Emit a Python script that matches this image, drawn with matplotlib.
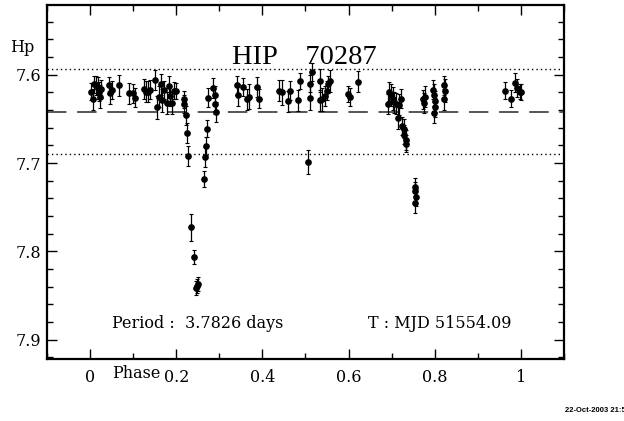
import matplotlib
matplotlib.use("Agg")
import matplotlib.pyplot as plt
from matplotlib.ticker import MultipleLocator

# Hipparcos epoch photometry of HIP 70287, folded on the period
phase = [0.0023, 0.0060, 0.0100, 0.0139, 0.0176, 0.0215, 0.0231, 0.0262, 0.0431, 0.0470,
         0.0516, 0.0662, 0.0894, 0.0986, 0.1042, 0.1241, 0.1292, 0.1343, 0.1396, 0.1512,
         0.1551, 0.1597, 0.1650, 0.1667, 0.1720, 0.1778, 0.1836, 0.1866, 0.1894, 0.1951,
         0.1991, 0.2176, 0.2190, 0.2222, 0.2245, 0.2275, 0.2352, 0.2414, 0.2454, 0.2477,
         0.2495, 0.2646, 0.2669, 0.2685, 0.2708, 0.2745, 0.2854, 0.2894, 0.2894, 0.2919,
         0.3410, 0.3444, 0.3556, 0.3653, 0.3699, 0.3880, 0.3919, 0.4382, 0.4458, 0.4586,
         0.4632, 0.4826, 0.4863, 0.5053, 0.5100, 0.5100, 0.5153, 0.5331, 0.5331, 0.5384,
         0.5463, 0.5505, 0.5523, 0.5579, 0.5986, 0.6025, 0.6218, 0.6905, 0.6944, 0.6981,
         0.7021, 0.7060, 0.7097, 0.7137, 0.7176, 0.7213, 0.7252, 0.7287, 0.7292, 0.7322,
         0.7329, 0.7542, 0.7553, 0.7560, 0.7537, 0.7738, 0.7762, 0.7778, 0.7970, 0.7993,
         0.8005, 0.8005, 0.7986, 0.8218, 0.8241, 0.8225, 0.9630, 0.9769, 0.9861, 0.9914,
         0.9977, 1.0007]
hp_mag = [7.619, 7.628, 7.611, 7.612, 7.615, 7.619, 7.625, 7.616, 7.612, 7.621,
          7.617, 7.612, 7.621, 7.621, 7.626, 7.616, 7.619, 7.619, 7.617, 7.606,
          7.637, 7.625, 7.611, 7.629, 7.617, 7.632, 7.613, 7.624, 7.632, 7.618,
          7.618, 7.628, 7.633, 7.646, 7.666, 7.692, 7.773, 7.806, 7.842, 7.839,
          7.837, 7.718, 7.693, 7.681, 7.661, 7.626, 7.615, 7.623, 7.633, 7.642,
          7.612, 7.623, 7.614, 7.628, 7.625, 7.614, 7.627, 7.618, 7.620, 7.630,
          7.618, 7.629, 7.607, 7.699, 7.610, 7.626, 7.597, 7.607, 7.629, 7.628,
          7.624, 7.618, 7.611, 7.607, 7.622, 7.625, 7.608, 7.633, 7.619, 7.623,
          7.627, 7.631, 7.633, 7.649, 7.634, 7.627, 7.658, 7.661, 7.668, 7.674,
          7.678, 7.727, 7.732, 7.739, 7.745, 7.628, 7.632, 7.625, 7.617, 7.623,
          7.630, 7.637, 7.643, 7.612, 7.618, 7.628, 7.618, 7.627, 7.609, 7.615,
          7.619, 7.620]
hp_err = [0.010, 0.012, 0.010, 0.011, 0.012, 0.011, 0.013, 0.010, 0.010, 0.012,
          0.010, 0.012, 0.012, 0.011, 0.011, 0.011, 0.012, 0.012, 0.011, 0.011,
          0.013, 0.012, 0.012, 0.013, 0.010, 0.012, 0.012, 0.011, 0.012, 0.010,
          0.009, 0.010, 0.010, 0.011, 0.011, 0.011, 0.015, 0.008, 0.008, 0.008,
          0.008, 0.009, 0.011, 0.010, 0.010, 0.011, 0.011, 0.010, 0.011, 0.011,
          0.011, 0.012, 0.010, 0.012, 0.014, 0.011, 0.011, 0.012, 0.014, 0.012,
          0.011, 0.012, 0.009, 0.014, 0.010, 0.014, 0.010, 0.013, 0.012, 0.013,
          0.011, 0.011, 0.010, 0.012, 0.009, 0.010, 0.012, 0.011, 0.011, 0.012,
          0.013, 0.012, 0.012, 0.012, 0.012, 0.011, 0.010, 0.011, 0.011, 0.011,
          0.010, 0.010, 0.011, 0.010, 0.012, 0.011, 0.011, 0.012, 0.011, 0.012,
          0.012, 0.011, 0.012, 0.011, 0.013, 0.012, 0.010, 0.010, 0.011, 0.010,
          0.008, 0.009]

mean_mag = 7.642
band_lo, band_hi = 7.594, 7.690

plt.rcParams["font.family"] = ["DejaVu Serif"]

fig = plt.figure(figsize=(6.24, 4.21), dpi=100)
ax = fig.add_axes([0.0753, 0.1473, 0.8285, 0.8408])

ax.errorbar(phase, hp_mag, yerr=hp_err, fmt="o", ms=3.8, color="black",
            ecolor="black", elinewidth=0.9, capsize=1.5, capthick=0.8, zorder=3)

ax.axhline(mean_mag, color="#555555", lw=1.4, ls=(0, (10, 5.5)), zorder=2)
ax.axhline(band_lo, color="black", lw=1.0, ls=(0, (1, 2.2)), zorder=2)
ax.axhline(band_hi, color="black", lw=1.0, ls=(0, (1, 2.2)), zorder=2)

ax.set_xlim(-0.1, 1.1)
ax.set_ylim(7.922, 7.521)

ax.xaxis.set_major_locator(MultipleLocator(0.2))
ax.xaxis.set_minor_locator(MultipleLocator(0.1))
ax.yaxis.set_major_locator(MultipleLocator(0.1))
ax.yaxis.set_minor_locator(MultipleLocator(0.02))
ax.tick_params(which="both", direction="in", top=True, right=True, width=1.0)
ax.tick_params(which="major", length=7, labelsize=11.5)
ax.tick_params(axis="x", which="major", pad=7)
ax.tick_params(axis="y", which="major", pad=4)
ax.tick_params(which="minor", length=4)
ax.set_xticks([0, 0.2, 0.4, 0.6, 0.8, 1.0])
ax.set_xticklabels(["0", "0.2", "0.4", "0.6", "0.8", "1"])
ax.set_yticks([7.6, 7.7, 7.8, 7.9])
ax.set_yticklabels(["7.6", "7.7", "7.8", "7.9"])
for s in ax.spines.values():
    s.set_linewidth(1.6)

ax.text(0.498, 7.580, "HIP    70287", fontsize=20.5, ha="center", va="center",
        family="Liberation Serif")
ax.text(0.05, 7.882, "Period :  3.7826 days", fontsize=11.5, va="center")
ax.text(0.645, 7.882, "T : MJD 51554.09", fontsize=11.5, va="center")

fig.text(0.017, 0.888, "Hp", fontsize=11.5, va="center")
fig.text(0.179, 0.113, "Phase", fontsize=11.5, va="center")
fig.text(0.905, 0.026, "22-Oct-2003 21:5", fontsize=5.5, fontweight="bold",
         family="Liberation Sans", va="center")

fig.savefig("out.png", dpi=100)
